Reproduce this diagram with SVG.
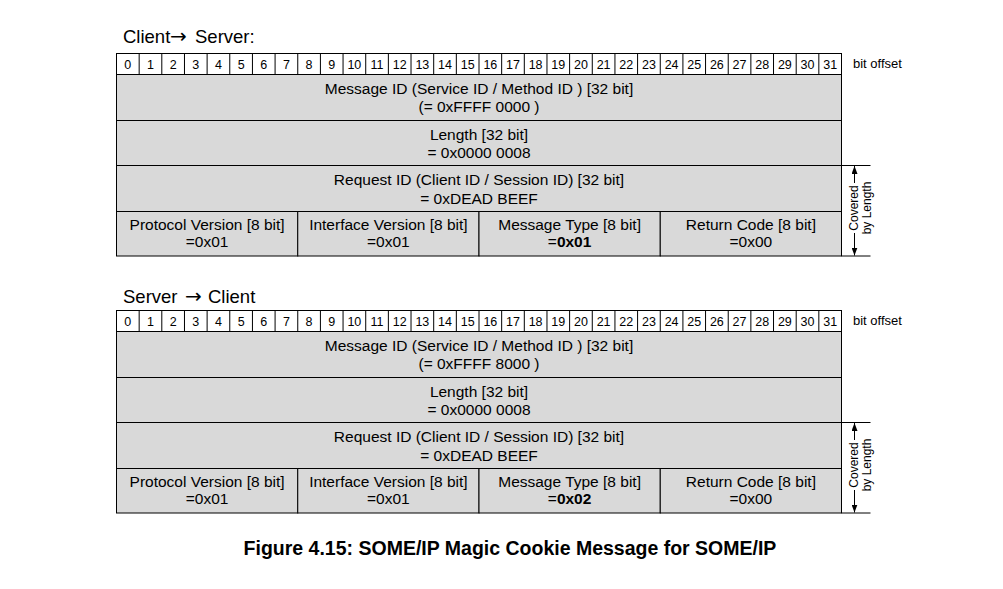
<svg xmlns="http://www.w3.org/2000/svg" width="1003" height="589" viewBox="0 0 1003 589">
<style>
text{font-family:"Liberation Sans",Arial,sans-serif;fill:#000}
.title{font-size:18.5px}
.arr{font-family:"DejaVu Sans","Liberation Sans",sans-serif;font-size:20px}
.bit{fill:#fff;stroke:#000;stroke-width:1}
.row{fill:#d9d9d9;stroke:#000;stroke-width:1}
.num{font-size:12.5px;text-anchor:middle}
.lbl{font-size:15.5px;text-anchor:middle}
.off{font-size:13px}
.cov{font-size:12px;text-anchor:middle}
.sep{stroke:#000;stroke-width:1}
.tick{stroke:#000;stroke-width:1}
.cap{font-size:19.5px;font-weight:bold;text-anchor:middle}
</style>
<defs>
<marker id="ah" markerUnits="userSpaceOnUse" markerWidth="9" markerHeight="6" refX="8" refY="3" orient="auto">
<path d="M0,0 L8,3 L0,6 z" fill="#000"/>
</marker>
<g id="bitrow">
<rect class="bit" x="116.5" y="53.5" width="725" height="21"/>
<path class="sep" d="M139.16,53.5V74.5M161.81,53.5V74.5M184.47,53.5V74.5M207.12,53.5V74.5M229.78,53.5V74.5M252.44,53.5V74.5M275.09,53.5V74.5M297.75,53.5V74.5M320.41,53.5V74.5M343.06,53.5V74.5M365.72,53.5V74.5M388.37,53.5V74.5M411.03,53.5V74.5M433.69,53.5V74.5M456.34,53.5V74.5M479,53.5V74.5M501.66,53.5V74.5M524.31,53.5V74.5M546.97,53.5V74.5M569.62,53.5V74.5M592.28,53.5V74.5M614.94,53.5V74.5M637.59,53.5V74.5M660.25,53.5V74.5M682.91,53.5V74.5M705.56,53.5V74.5M728.22,53.5V74.5M750.87,53.5V74.5M773.53,53.5V74.5M796.19,53.5V74.5M818.84,53.5V74.5"/>
<text class="num" y="68.5"><tspan x="127.83">0</tspan><tspan x="150.48">1</tspan><tspan x="173.14">2</tspan><tspan x="195.8">3</tspan><tspan x="218.45">4</tspan><tspan x="241.11">5</tspan><tspan x="263.77">6</tspan><tspan x="286.42">7</tspan><tspan x="309.08">8</tspan><tspan x="331.73">9</tspan><tspan x="354.39">10</tspan><tspan x="377.05">11</tspan><tspan x="399.7">12</tspan><tspan x="422.36">13</tspan><tspan x="445.02">14</tspan><tspan x="467.67">15</tspan><tspan x="490.33">16</tspan><tspan x="512.98">17</tspan><tspan x="535.64">18</tspan><tspan x="558.3">19</tspan><tspan x="580.95">20</tspan><tspan x="603.61">21</tspan><tspan x="626.27">22</tspan><tspan x="648.92">23</tspan><tspan x="671.58">24</tspan><tspan x="694.23">25</tspan><tspan x="716.89">26</tspan><tspan x="739.55">27</tspan><tspan x="762.2">28</tspan><tspan x="784.86">29</tspan><tspan x="807.52">30</tspan><tspan x="830.17">31</tspan></text>
<text class="off" x="853" y="67.5">bit offset</text>
</g>
</defs>

<!-- Table 1: Client -> Server -->
<g id="title1"><text class="title" y="42.5"><tspan x="123">Client</tspan> <tspan class="arr" x="170">→</tspan> <tspan x="195">Server:</tspan></text></g>
<g id="t1-bits"><use href="#bitrow"/></g>
<g id="t1-msgid">
<rect class="row" x="116.5" y="74.5" width="725" height="46"/>
<text class="lbl" x="479" y="94">Message ID (Service ID / Method ID ) [32 bit]</text>
<text class="lbl" x="479" y="112">(= 0xFFFF 0000 )</text>
</g>
<g id="t1-length">
<rect class="row" x="116.5" y="120.5" width="725" height="45"/>
<text class="lbl" x="479" y="140">Length [32 bit]</text>
<text class="lbl" x="479" y="157.5">= 0x0000 0008</text>
</g>
<g id="t1-reqid">
<rect class="row" x="116.5" y="165.5" width="725" height="46"/>
<text class="lbl" x="479" y="185">Request ID (Client ID / Session ID) [32 bit]</text>
<text class="lbl" x="479" y="203.5">= 0xDEAD BEEF</text>
</g>
<g id="t1-proto">
<rect class="row" x="116.5" y="211.5" width="181.25" height="44.5"/>
<text class="lbl" x="207.1" y="229.5">Protocol Version [8 bit]</text>
<text class="lbl" x="207.1" y="247">=0x01</text>
</g>
<g id="t1-iface">
<rect class="row" x="297.75" y="211.5" width="181.25" height="44.5"/>
<text class="lbl" x="388.4" y="229.5">Interface Version [8 bit]</text>
<text class="lbl" x="388.4" y="247">=0x01</text>
</g>
<g id="t1-mtype">
<rect class="row" x="479" y="211.5" width="181.25" height="44.5"/>
<text class="lbl" x="569.6" y="229.5">Message Type [8 bit]</text>
<text class="lbl" x="569.6" y="247">=<tspan font-weight="bold">0x01</tspan></text>
</g>
<g id="t1-rcode">
<rect class="row" x="660.25" y="211.5" width="181.25" height="44.5"/>
<text class="lbl" x="750.9" y="229.5">Return Code [8 bit]</text>
<text class="lbl" x="750.9" y="247">=0x00</text>
</g>
<g id="t1-covered">
<text class="cov" transform="translate(858,208) rotate(-90)">Covered</text>
<text class="cov" transform="translate(871,208) rotate(-90)">by Length</text>
</g>

<!-- Table 2: Server -> Client -->
<g id="title2"><text class="title" y="302.5"><tspan x="123">Server</tspan> <tspan class="arr" x="185">→</tspan> <tspan x="208">Client</tspan></text></g>
<g id="t2-bits" transform="translate(0,257)"><use href="#bitrow"/></g>
<g id="t2-msgid" transform="translate(0,257)">
<rect class="row" x="116.5" y="74.5" width="725" height="46"/>
<text class="lbl" x="479" y="94">Message ID (Service ID / Method ID ) [32 bit]</text>
<text class="lbl" x="479" y="112">(= 0xFFFF 8000 )</text>
</g>
<g id="t2-length" transform="translate(0,257)">
<rect class="row" x="116.5" y="120.5" width="725" height="45"/>
<text class="lbl" x="479" y="140">Length [32 bit]</text>
<text class="lbl" x="479" y="157.5">= 0x0000 0008</text>
</g>
<g id="t2-reqid" transform="translate(0,257)">
<rect class="row" x="116.5" y="165.5" width="725" height="46"/>
<text class="lbl" x="479" y="185">Request ID (Client ID / Session ID) [32 bit]</text>
<text class="lbl" x="479" y="203.5">= 0xDEAD BEEF</text>
</g>
<g id="t2-proto" transform="translate(0,257)">
<rect class="row" x="116.5" y="211.5" width="181.25" height="44.5"/>
<text class="lbl" x="207.1" y="229.5">Protocol Version [8 bit]</text>
<text class="lbl" x="207.1" y="247">=0x01</text>
</g>
<g id="t2-iface" transform="translate(0,257)">
<rect class="row" x="297.75" y="211.5" width="181.25" height="44.5"/>
<text class="lbl" x="388.4" y="229.5">Interface Version [8 bit]</text>
<text class="lbl" x="388.4" y="247">=0x01</text>
</g>
<g id="t2-mtype" transform="translate(0,257)">
<rect class="row" x="479" y="211.5" width="181.25" height="44.5"/>
<text class="lbl" x="569.6" y="229.5">Message Type [8 bit]</text>
<text class="lbl" x="569.6" y="247">=<tspan font-weight="bold">0x02</tspan></text>
</g>
<g id="t2-rcode" transform="translate(0,257)">
<rect class="row" x="660.25" y="211.5" width="181.25" height="44.5"/>
<text class="lbl" x="750.9" y="229.5">Return Code [8 bit]</text>
<text class="lbl" x="750.9" y="247">=0x00</text>
</g>
<g id="t2-covered" transform="translate(0,257)">
<text class="cov" transform="translate(858,208) rotate(-90)">Covered</text>
<text class="cov" transform="translate(871,208) rotate(-90)">by Length</text>
</g>

<!-- Connectors: "Covered by Length" extents -->
<g id="connectors">
<path class="tick" d="M841.5,165.5H870.5M841.5,256H870.5"/>
<line class="tick" x1="854.5" y1="183" x2="854.5" y2="166" marker-end="url(#ah)"/>
<line class="tick" x1="854.5" y1="233" x2="854.5" y2="255.5" marker-end="url(#ah)"/>
<g transform="translate(0,257)">
<path class="tick" d="M841.5,165.5H870.5M841.5,256H870.5"/>
<line class="tick" x1="854.5" y1="183" x2="854.5" y2="166" marker-end="url(#ah)"/>
<line class="tick" x1="854.5" y1="233" x2="854.5" y2="255.5" marker-end="url(#ah)"/>
</g>
</g>

<g id="caption"><text class="cap" x="510" y="555">Figure 4.15: SOME/IP Magic Cookie Message for SOME/IP</text></g>
</svg>
